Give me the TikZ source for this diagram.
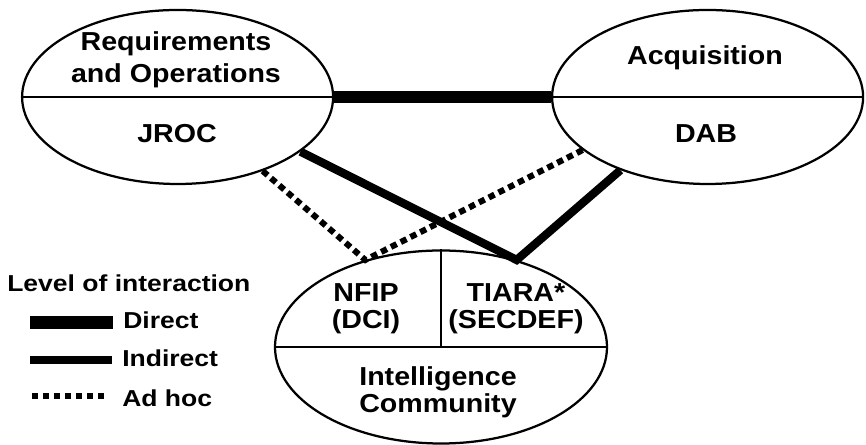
\documentclass[tikz,border=0pt]{standalone}
\usepackage{fontspec}
\setmainfont{Liberation Sans}[FakeStretch=1.1]
\newfontfamily\legfont{Liberation Sans}[FakeStretch=1.15]
\usetikzlibrary{shapes.geometric}

\begin{document}
\begin{tikzpicture}[
	body/.style={draw, ellipse, line width=1.6pt, inner sep=0pt},
	divider/.style={line width=1.1pt},
	lbl/.style={inner sep=0pt, align=center, font=\bfseries\fontsize{18.5}{23.1}\selectfont},
	lbltight/.style={lbl, font=\bfseries\fontsize{18.5}{19.2}\selectfont},
	leglbl/.style={inner sep=0pt, font=\legfont\bfseries\fontsize{16.4}{18}\selectfont},
	direct/.style={line width=9.2pt},
	indirect/.style={line width=5.9pt, line join=miter},
	adhoc/.style={line width=4.3pt, dash pattern=on 4.6pt off 3.2pt, line join=miter}
]
	\useasboundingbox (0,0) rectangle (21.65,11.125);
	% Ellipses
	\node[body, minimum width=7.775cm, minimum height=4.35cm] (req) at (4.44,8.7) {};
	\node[body, minimum width=7.775cm, minimum height=4.35cm] (acq) at (17.69,8.7) {};
	\node[body, minimum width=8.3cm, minimum height=4.825cm] (intel) at (11.025,2.45) {};
	\draw[divider] (req.west) -- (req.east);
	\draw[divider] (acq.west) -- (acq.east);
	\draw[divider] (intel.west) -- (intel.east);
	\draw[divider] (intel.north) -- (intel.center);
	% Texts
	\node[lbl] (reqtxt) at (4.4,9.6325) {Requirements\\and Operations};
	\node[lbl, anchor=base] (jroc) at (4.425,7.55) {JROC};
	\node[lbl, anchor=base] (acqtxt) at (17.625,9.5) {Acquisition};
	\node[lbl, anchor=base] (dab) at (17.65,7.55) {DAB};
	\node[lbltight] (nfip) at (9.15,3.4) {NFIP\\(DCI)};
	\node[lbltight] (tiara) at (12.9,3.4) {TIARA*\\(SECDEF)};
	\node[lbltight] (ictxt) at (10.95,1.325) {Intelligence\\Community};
	% Interactions
	\draw[direct] (req.east) -- (acq.west);
	\draw[adhoc] (req.-41.3) -- (intel.131.7) -- (acq.203.7);
	\draw[indirect] (req.-24.2) -- (intel.49.8) -- (acq.220.3);
	% Legend
	\node[leglbl, anchor=base west] (legtitle) at (0.175,3.825) {Level of interaction};
	\coordinate (dirA) at (0.75,3.0625);
	\coordinate (dirB) at (2.825,3.0625);
	\coordinate (indA) at (0.75,2.125);
	\coordinate (indB) at (2.8,2.125);
	\coordinate (adhA) at (0.8,1.225);
	\coordinate (adhB) at (2.7,1.225);
	\draw[direct] (dirA) -- (dirB);
	\draw[indirect] (indA) -- (indB);
	\draw[adhoc] (adhA) -- (adhB);
	\node[leglbl, anchor=base west] (dirtxt) at (3.075,2.9) {Direct};
	\node[leglbl, anchor=base west] (indtxt) at (3.05,1.95) {Indirect};
	\node[leglbl, anchor=base west] (adhtxt) at (3.05,0.95) {Ad hoc};
\end{tikzpicture}
\end{document}
